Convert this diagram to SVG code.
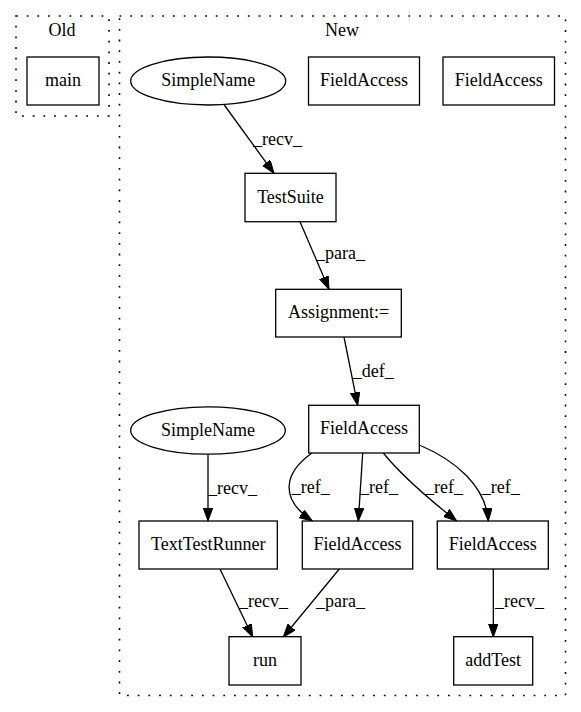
<svg xmlns="http://www.w3.org/2000/svg" width="581" height="712" viewBox="0 0 581 712">
<style>
text { font-family: "Liberation Serif", "Times New Roman", serif; font-size: 18px; fill: #000; }
.c { text-anchor: middle; }
.l { text-anchor: start; }
.cluster { fill: none; stroke: #000; stroke-width: 1.6; stroke-dasharray: 1.8,8.9; }
.node { fill: #fff; stroke: #000; stroke-width: 1.3; }
.edge { fill: none; stroke: #000; stroke-width: 1.3; marker-end: url(#arrow); }
</style>
<defs>
<marker id="arrow" markerUnits="userSpaceOnUse" markerWidth="14" markerHeight="10" refX="13" refY="4.7" orient="auto">
<path d="M0,0 L13,4.7 L0,9.4 z" fill="#000" stroke="#000" stroke-width="1"/>
</marker>
</defs>
<rect width="581" height="712" fill="#fff"/>
<g id="cluster_old">
<rect class="cluster" x="16" y="16" width="93" height="100"/>
<text class="c" x="62" y="36">Old</text>
</g>
<g id="cluster_new">
<rect class="cluster" x="119.5" y="16" width="446" height="679.5"/>
<text class="c" x="342" y="36">New</text>
</g>
<g id="connectors">
<path class="edge" d="M224.3,105 L274,173.3"/>
<text class="l" x="253" y="145">_recv_</text>
<path class="edge" d="M300,221.7 L329,289.3"/>
<text class="l" x="316" y="259">_para_</text>
<path class="edge" d="M344,337 L357.7,405.3"/>
<text class="l" x="352.7" y="376.7">_def_</text>
<path class="edge" d="M312,453 C285,472 278,498 312.3,521"/>
<text class="l" x="291.7" y="493.3">_ref_</text>
<path class="edge" d="M362.7,453 L358.3,521"/>
<text class="l" x="360" y="493.3">_ref_</text>
<path class="edge" d="M383.3,453 C402,476 430,500 456.7,521"/>
<text class="l" x="425" y="493.3">_ref_</text>
<path class="edge" d="M419.3,445 C455,460 486,486 488.3,521"/>
<text class="l" x="481.7" y="493.3">_ref_</text>
<path class="edge" d="M208,454 L208,521"/>
<text class="l" x="208" y="494.3">_recv_</text>
<path class="edge" d="M220,569 L252.7,637"/>
<text class="l" x="239" y="607.3">_recv_</text>
<path class="edge" d="M339.3,569 L283.3,637"/>
<text class="l" x="316" y="607.3">_para_</text>
<path class="edge" d="M493.3,569 L493.3,637"/>
<text class="l" x="495" y="607.3">_recv_</text>
</g>
<g id="main">
<rect class="node" x="27" y="57" width="72" height="48"/>
<text class="c" x="63" y="86">main</text>
</g>
<g id="simplename1">
<ellipse class="node" cx="208.2" cy="81" rx="77.5" ry="24"/>
<text class="c" x="208.2" y="86">SimpleName</text>
</g>
<g id="fieldaccess_top1">
<rect class="node" x="308.5" y="57" width="111" height="48"/>
<text class="c" x="364" y="86">FieldAccess</text>
</g>
<g id="fieldaccess_top2">
<rect class="node" x="443" y="57" width="111.5" height="48"/>
<text class="c" x="498.7" y="86">FieldAccess</text>
</g>
<g id="testsuite">
<rect class="node" x="245" y="173.3" width="91" height="48.4"/>
<text class="c" x="290.5" y="202.5">TestSuite</text>
</g>
<g id="assignment">
<rect class="node" x="275.7" y="289.3" width="125.6" height="47.7"/>
<text class="c" x="338.5" y="318.2">Assignment:=</text>
</g>
<g id="simplename2">
<ellipse class="node" cx="208" cy="430.5" rx="77.3" ry="23.7"/>
<text class="c" x="208" y="435.5">SimpleName</text>
</g>
<g id="fieldaccess_mid">
<rect class="node" x="308.7" y="405.3" width="110.6" height="47.7"/>
<text class="c" x="364" y="434.2">FieldAccess</text>
</g>
<g id="texttestrunner">
<rect class="node" x="139" y="521" width="138.3" height="48"/>
<text class="c" x="208.2" y="550">TextTestRunner</text>
</g>
<g id="fieldaccess_a">
<rect class="node" x="302.3" y="521" width="110.4" height="48"/>
<text class="c" x="357.5" y="550">FieldAccess</text>
</g>
<g id="fieldaccess_b">
<rect class="node" x="437.3" y="521" width="111" height="48"/>
<text class="c" x="492.8" y="550">FieldAccess</text>
</g>
<g id="run">
<rect class="node" x="229" y="636.7" width="72" height="48.3"/>
<text class="c" x="265" y="666">run</text>
</g>
<g id="addtest">
<rect class="node" x="453.7" y="636.7" width="79" height="48.3"/>
<text class="c" x="493.2" y="666">addTest</text>
</g>
</svg>
